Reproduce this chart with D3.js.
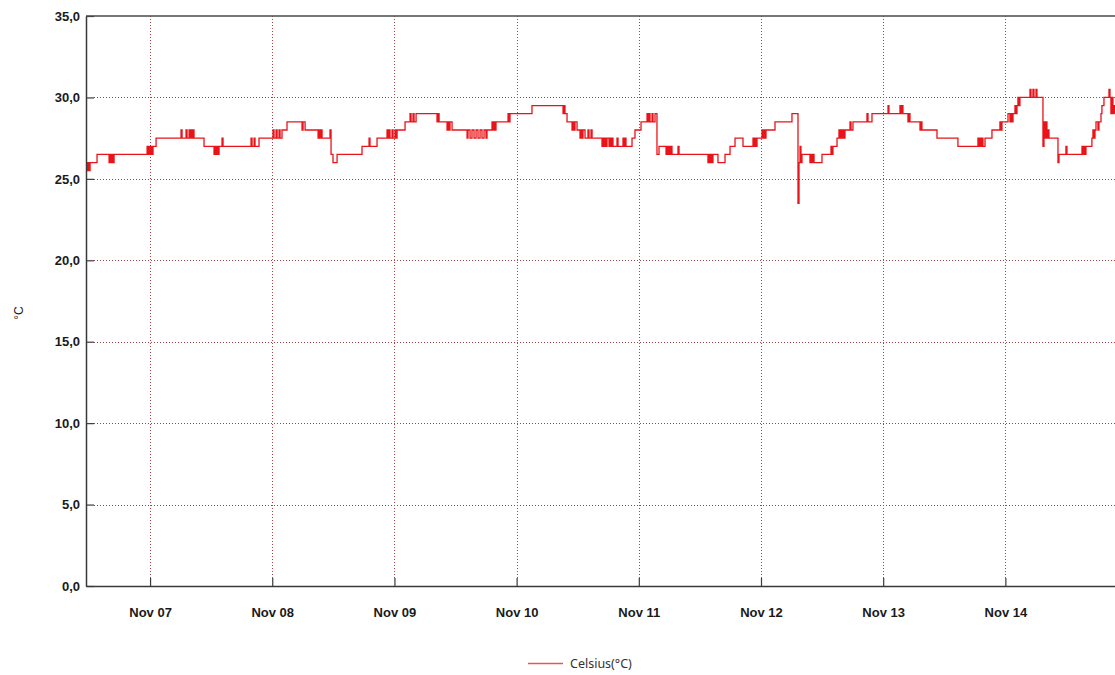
<!DOCTYPE html>
<html>
<head>
<meta charset="utf-8">
<script src="https://cdn.jsdelivr.net/npm/d3@7"></script>
<style>
  body { margin: 0; background: #ffffff; }
  svg { display: block; }
</style>
</head>
<body>
<svg id="chart" width="1115" height="675"></svg>
<script>
// Logger readings (°C), one list per day: [clock time, temperature]
const nov06 = [["11:25",26.0],["11:38",25.5],["11:49",26.0],["12:01",25.5],["12:13",26.0],["13:35",26.5],
  ["15:57",26.0],["16:09",26.5],["16:20",26.0],["16:32",26.5],["16:44",26.0],["16:56",26.5],
  ["23:25",27.0],["23:36",26.5],["23:48",27.0]];
const nov07 = [["00:00",26.5],["00:12",27.0],["00:24",26.5],["00:35",27.0],["01:11",27.5],
  ["06:05",28.0],["06:17",27.5],["07:04",28.0],["07:16",27.5],["07:40",28.0],["07:51",27.5],["08:03",28.0],["08:15",27.5],["08:27",28.0],["08:38",27.5],
  ["10:36",27.0],["12:34",26.5],["12:46",27.0],["12:58",26.5],["13:10",27.0],["13:21",26.5],["13:33",27.0],["14:08",27.5],["14:20",27.0],
  ["19:50",27.5],["20:02",27.0],["20:26",27.5],["20:37",27.0],["21:24",27.5]];
const nov08 = [["00:09",28.0],["00:21",27.5],["00:45",28.0],["00:57",27.5],["01:20",28.0],["01:32",27.5],["01:55",28.0],["02:54",28.5],
  ["05:51",28.0],["06:03",28.5],["06:27",28.0],["09:00",27.5],["09:11",28.0],["09:23",27.5],["09:35",28.0],["09:47",27.5],
  ["11:21",28.0],["11:33",26.5],["11:56",26.0],["12:44",26.5],["17:38",27.0],["19:01",27.5],["19:12",27.0],["20:35",27.5],
  ["22:33",28.0],["22:45",27.5],["22:56",28.0],["23:08",27.5],["23:32",28.0],["23:44",27.5]];
const nov09 = [["00:07",28.0],["00:19",27.5],["00:31",28.0],["02:05",28.5],["03:04",29.0],["03:16",28.5],["03:39",29.0],["03:51",28.5],["04:15",29.0],
  ["08:22",28.5],["08:34",29.0],["08:46",28.5],["10:20",28.0],["10:32",28.5],["10:43",28.0],["10:55",28.5],["11:19",28.0],
  ["14:16",27.5],["14:27",28.0],["14:51",27.5],["15:14",28.0],["15:38",27.5],["16:02",28.0],["16:25",27.5],["16:49",28.0],["17:12",27.5],["17:36",28.0],["17:59",27.5],["18:11",28.0],
  ["19:10",28.5],["19:22",28.0],["19:34",28.5],["19:45",28.0],["19:57",28.5],["22:19",29.0],["22:30",28.5],["22:42",29.0]];
const nov10 = [["03:01",29.5],["09:07",29.0],["09:19",29.5],["09:30",29.0],["09:54",28.5],
  ["10:53",28.0],["11:05",28.5],["11:16",28.0],["11:28",28.5],["11:52",28.0],["12:27",27.5],["12:39",28.0],["12:51",27.5],["13:02",28.0],["13:26",27.5],["14:01",28.0],["14:13",27.5],["14:37",28.0],["14:49",27.5],
  ["16:46",27.0],["16:58",27.5],["17:10",27.0],["17:22",27.5],["17:34",27.0],["17:45",27.5],["18:09",27.0],["18:21",27.5],["18:32",27.0],["18:44",27.5],["18:56",27.0],["19:43",27.5],["19:55",27.0],
  ["20:54",27.5],["21:06",27.0],["21:17",27.5],["21:29",27.0],["22:40",27.5],["23:15",28.0]];
const nov11 = [["00:26",28.5],["01:37",29.0],["01:48",28.5],["02:00",29.0],["02:12",28.5],["02:36",29.0],["02:47",28.5],["03:11",29.0],
  ["03:34",26.5],["03:58",27.0],["05:21",26.5],["05:32",27.0],["05:44",26.5],["05:56",27.0],["06:08",26.5],["06:19",27.0],["06:31",26.5],
  ["07:42",27.0],["07:54",26.5],["13:35",26.0],["13:47",26.5],["13:59",26.0],["14:11",26.5],["14:23",26.0],["14:34",26.5],
  ["15:33",26.0],["16:56",26.5],["17:55",27.0],["18:54",27.5],["20:28",27.0],["22:26",27.5],["22:37",27.0],["22:49",27.5],["23:01",27.0],["23:13",27.5]];
const nov12 = [["00:12",28.0],["00:24",27.5],["00:35",28.0],["00:47",27.5],["00:59",28.0],["02:45",28.5],["06:05",29.0],
  ["07:16",23.5],["07:28",26.0],["07:40",27.0],["07:51",26.0],["08:03",26.5],["09:37",26.0],["09:49",26.5],["10:01",26.0],["10:13",26.5],["10:25",26.0],
  ["11:59",26.5],["13:45",27.0],["13:57",26.5],["14:08",27.0],["14:56",27.5],["15:19",28.0],["15:31",27.5],["15:43",28.0],["15:55",27.5],["16:06",28.0],["16:18",27.5],["16:30",28.0],
  ["17:29",28.5],["17:41",28.0],["18:04",28.5],["20:49",29.0],["21:01",28.5],["21:48",29.0]];
const nov13 = [["00:57",29.5],["01:08",29.0],["03:18",29.5],["03:30",29.0],["03:42",29.5],["03:53",29.0],["04:52",28.5],["05:04",29.0],["05:16",28.5],
  ["07:14",28.0],["07:25",28.5],["07:37",28.0],["10:34",27.5],["14:41",27.0],["18:37",27.5],["18:49",27.0],["19:01",27.5],["19:12",27.0],["19:24",27.5],["19:36",27.0],["20:00",27.5],
  ["21:22",28.0],["22:56",28.5],["23:08",28.0],["23:20",28.5]];
const nov14 = [["00:31",29.0],["00:54",28.5],["01:06",29.0],["01:18",28.5],["01:30",29.0],["01:53",29.5],["02:05",29.0],["02:17",29.5],["02:28",30.0],["02:40",29.5],["02:52",30.0],
  ["04:50",30.5],["05:02",30.0],["05:25",30.5],["05:37",30.0],["06:01",30.5],["06:12",30.0],
  ["07:23",27.0],["07:35",28.5],["07:47",27.5],["07:58",28.5],["08:10",27.5],["08:22",28.0],["08:34",27.5],
  ["10:20",26.0],["10:32",26.5],["11:54",27.0],["12:06",26.5],["15:03",27.0],["15:14",26.5],["15:26",27.0],["15:38",26.5],["15:50",27.0],
  ["17:00",27.5],["17:12",28.0],["17:24",27.5],["17:36",28.0],["17:48",28.5],["18:11",28.0],["18:23",28.5],["18:47",29.0],["18:58",29.5],["19:22",30.0],
  ["20:21",30.5],["20:33",30.0],["20:44",29.0],["20:56",30.0],["21:08",29.0],["21:20",29.5],["21:32",29.0]];

const dayDates = ["2021-11-06","2021-11-07","2021-11-08","2021-11-09","2021-11-10","2021-11-11","2021-11-12","2021-11-13","2021-11-14"];
const dayReadings = [nov06, nov07, nov08, nov09, nov10, nov11, nov12, nov13, nov14];
const yTicks = [0, 5, 10, 15, 20, 25, 30, 35];
const seriesName = "Celsius(°C)";
const yTitle = "°C";

const parseTime = d3.timeParse("%Y-%m-%d %H:%M");
const data = [];
dayReadings.forEach((list, i) => {
  list.forEach(([t, v]) => data.push({ date: parseTime(dayDates[i] + " " + t), value: v }));
});

const svg = d3.select("#chart");
const plot = { left: 86, top: 16, right: 1115, bottom: 586 };

const x = d3.scaleTime()
  .domain(d3.extent(data, d => d.date))
  .range([plot.left, plot.right]);
const y = d3.scaleLinear().domain([0, 35]).range([plot.bottom, plot.top]);

const locale = d3.formatLocale({ decimal: ",", thousands: ".", grouping: [3], currency: ["", ""] });
const fmtY = locale.format(".1f");
const fmtX = d3.timeFormat("%b %d");
const xTicks = d3.timeDay.range(d3.timeDay.ceil(x.domain()[0]), x.domain()[1]);

const gridColor = "#a04848";
// horizontal grid
svg.append("g").selectAll("line").data(yTicks.filter(v => v > 0 && v < 35)).join("line")
  .attr("x1", plot.left + 8).attr("x2", plot.right)
  .attr("y1", d => Math.round(y(d)) + 0.5).attr("y2", d => Math.round(y(d)) + 0.5)
  .attr("stroke", gridColor).attr("stroke-width", 1).attr("stroke-dasharray", "1,2");
// vertical grid
svg.append("g").selectAll("line").data(xTicks).join("line")
  .attr("x1", d => Math.round(x(d)) + 0.5).attr("x2", d => Math.round(x(d)) + 0.5)
  .attr("y1", plot.top).attr("y2", plot.bottom - 8)
  .attr("stroke", gridColor).attr("stroke-width", 1).attr("stroke-dasharray", "1,2");

// temperature trace
svg.append("clipPath").attr("id", "plotClip").append("rect")
  .attr("x", plot.left).attr("y", plot.top - 2)
  .attr("width", plot.right - plot.left).attr("height", plot.bottom - plot.top + 2);
const line = d3.line().x(d => x(d.date)).y(d => y(d.value)).curve(d3.curveStepAfter);
svg.append("path").datum(data)
  .attr("clip-path", "url(#plotClip)")
  .attr("d", line)
  .attr("fill", "none")
  .attr("stroke", "#e8141a")
  .attr("stroke-width", 1.3);

// axes
const axisFont = "'Liberation Sans', Arial, sans-serif";
const yAxis = svg.append("g").attr("transform", `translate(${plot.left},0)`)
  .call(d3.axisLeft(y).tickValues(yTicks).tickFormat(fmtY).tickSizeInner(-8).tickSizeOuter(0).tickPadding(6));
const xAxis = svg.append("g").attr("transform", `translate(0,${plot.bottom})`)
  .call(d3.axisBottom(x).tickValues(xTicks).tickFormat(fmtX).tickSizeInner(-8).tickSizeOuter(0).tickPadding(22));
[yAxis, xAxis].forEach(g => {
  g.select(".domain").attr("stroke", "#3a3a3a").attr("stroke-width", 1.5);
  g.selectAll(".tick line").attr("stroke", "#3a3a3a").attr("stroke-width", 1.2);
  g.selectAll(".tick text").attr("fill", "#1a1a1a")
    .style("font-family", axisFont).style("font-size", "13px").style("font-weight", "bold");
});
// top frame edge
svg.append("line").attr("x1", plot.left).attr("x2", plot.right)
  .attr("y1", plot.top).attr("y2", plot.top)
  .attr("stroke", "#4a4a4a").attr("stroke-width", 1.5);

// y axis title
svg.append("text").attr("transform", "translate(23,313) rotate(-90)")
  .attr("text-anchor", "middle")
  .style("font-family", axisFont).style("font-size", "12px").attr("fill", "#222")
  .text(yTitle);

// legend
svg.append("line").attr("x1", 528).attr("x2", 563).attr("y1", 663.5).attr("y2", 663.5)
  .attr("stroke", "#e05a5a").attr("stroke-width", 1.3);
svg.append("text").attr("x", 570).attr("y", 668)
  .style("font-family", "'Noto Sans', 'Open Sans', sans-serif").style("font-size", "12.5px").attr("fill", "#333")
  .text(seriesName);
</script>
</body>
</html>
